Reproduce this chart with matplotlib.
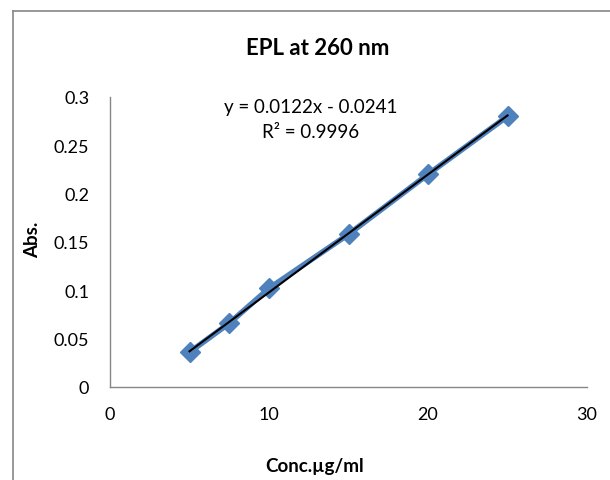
import matplotlib.pyplot as plt
import numpy as np
from matplotlib.lines import Line2D

conc = [5, 7.5, 10, 15, 20, 25]
absorbance = [0.036, 0.066, 0.102, 0.158, 0.220, 0.280]
slope = 0.0122
intercept = -0.0241
r2 = 0.9996

plt.rcParams['font.family'] = ['Lato', 'DejaVu Sans']

fig = plt.figure(figsize=(6.10, 4.81), dpi=100)
ax = fig.add_axes([110 / 610, 1 - 388 / 481, 477 / 610, 290 / 481])

# chart border (cropped on right and bottom)
fig.add_artist(Line2D([13 / 610, 13 / 610], [0, 1 - 12 / 481], transform=fig.transFigure, color='#868686', lw=1.2))
fig.add_artist(Line2D([13 / 610, 1], [1 - 12 / 481, 1 - 12 / 481], transform=fig.transFigure, color='#868686', lw=1.2))

ax.plot(conc, absorbance, color='#4F81BD', lw=4, marker='D', markersize=10.5, zorder=2)
xs = np.array([conc[0], conc[-1]])
ax.plot(xs, slope * xs + intercept, color='black', lw=1.5, zorder=3)

ax.set_xlim(0, 30)
ax.set_ylim(0, 0.3)
ax.set_xticks([0, 10, 20, 30])
ax.set_xticklabels(['0', '10', '20', '30'])
ax.set_yticks([0, 0.05, 0.1, 0.15, 0.2, 0.25, 0.3])
ax.set_yticklabels(['0', '0.05', '0.1', '0.15', '0.2', '0.25', '0.3'])
ax.tick_params(length=0, labelsize=13, colors='black')
ax.tick_params(axis='x', pad=14)
ax.tick_params(axis='y', pad=15)
for s in ['top', 'right']:
    ax.spines[s].set_visible(False)
for s in ['left', 'bottom']:
    ax.spines[s].set_color('#868686')
    ax.spines[s].set_linewidth(1)

fig.text(318 / 610, 1 - 49 / 481, 'EPL at 260 nm', ha='center', va='center', fontsize=16, fontweight='bold')
fig.text(315 / 610, 1 - 467 / 481, 'Conc.µg/ml', ha='center', va='center', fontsize=13.5, fontweight='bold')
fig.text(33 / 610, 1 - 240 / 481, 'Abs.', ha='center', va='center', rotation=90, fontsize=13.5, fontweight='bold')
fig.text(311 / 610, 1 - 108 / 481, f'y = {slope}x - {abs(intercept)}', ha='center', va='center', fontsize=13.5)
fig.text(311 / 610, 1 - 133 / 481, f'R² = {r2}', ha='center', va='center', fontsize=13.5)

fig.savefig('out.png', dpi=100)
